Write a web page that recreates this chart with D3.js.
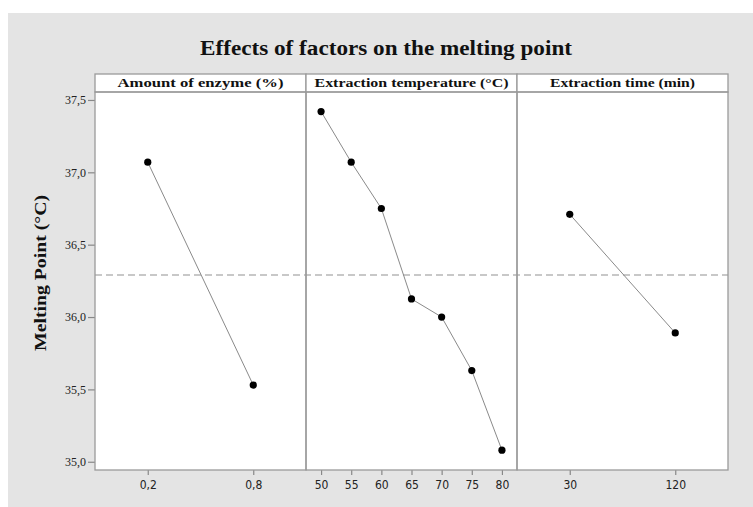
<!DOCTYPE html>
<html><head><meta charset="utf-8">
<script src="https://cdn.jsdelivr.net/npm/d3@7"></script>
<style>body{margin:0;background:#fff}svg{display:block}</style>
</head><body>
<svg id="c" width="753" height="507"></svg>
<script>
const title = "Effects of factors on the melting point";
const yLabel = "Melting Point (°C)";
const panelTitles = ["Amount of enzyme (%)", "Extraction temperature (°C)", "Extraction time (min)"];
const enzymeLevels = ["0,2", "0,8"];
const enzymeMeans = [37.07, 35.53];
const tempLevels = ["50", "55", "60", "65", "70", "75", "80"];
const tempMeans = [37.42, 37.07, 36.75, 36.125, 36.0, 35.63, 35.08];
const timeLevels = ["30", "120"];
const timeMeans = [36.71, 35.89];
const yTicks = [35.0, 35.5, 36.0, 36.5, 37.0, 37.5];
const grandMean = 36.29;

const panels = [
  {title: panelTitles[0], levels: enzymeLevels, values: enzymeMeans, tw: 166},
  {title: panelTitles[1], levels: tempLevels, values: tempMeans, tw: 194},
  {title: panelTitles[2], levels: timeLevels, values: timeMeans, tw: 145}
];

const svg = d3.select("#c");
svg.append("rect").attr("x", 8).attr("y", 13).attr("width", 745).attr("height", 494).attr("fill", "#e4e4e4");

const L = 95, R = 728, T = 92, B = 470, stripT = 74;
const pw = (R - L) / 3;
const y = d3.scaleLinear().domain([34.943, 37.555]).range([B, T]);
const serif = "'Liberation Serif','DejaVu Serif',serif";
const sans = "'Liberation Sans Narrow','DejaVu Sans Condensed','Liberation Sans',sans-serif";

svg.append("text").attr("x", 386).attr("y", 55).attr("text-anchor", "middle")
  .attr("font-family", serif).attr("font-weight", "bold").attr("font-size", 20)
  .attr("textLength", 372).attr("lengthAdjust", "spacingAndGlyphs")
  .attr("fill", "#111").text(title);

svg.append("text").attr("transform", `translate(46,273) rotate(-90)`)
  .attr("text-anchor", "middle").attr("font-family", serif).attr("font-weight", "bold")
  .attr("font-size", 17).attr("textLength", 156).attr("lengthAdjust", "spacingAndGlyphs")
  .attr("fill", "#111").text(yLabel);

// plot background
svg.append("rect").attr("x", L).attr("y", T).attr("width", R - L).attr("height", B - T).attr("fill", "#fff");

// y axis
const yAxis = d3.axisLeft(y).tickValues(yTicks).tickSize(7).tickPadding(2)
  .tickFormat(d => d3.format(".1f")(d).replace(".", ","));
const ya = svg.append("g").attr("transform", `translate(${L},0)`).call(yAxis);
ya.select(".domain").remove();
ya.selectAll("line").attr("stroke", "#888").attr("stroke-width", 1.2);
ya.selectAll("text").attr("font-family", serif).attr("font-size", 12).attr("fill", "#222");

// grand mean dashed line
svg.append("line").attr("x1", L).attr("x2", R).attr("y1", y(grandMean)).attr("y2", y(grandMean))
  .attr("stroke", "#c8c8c8").attr("stroke-width", 2).attr("stroke-dasharray", "7,4");

panels.forEach((p, i) => {
  const x0 = L + i * pw, x1 = x0 + pw;
  const x = d3.scalePoint().domain(p.levels).range([x0, x1]).padding(0.5);
  // strip
  svg.append("rect").attr("x", x0).attr("y", stripT).attr("width", pw).attr("height", T - stripT)
    .attr("fill", "#fff").attr("stroke", "#9a9a9a").attr("stroke-width", 1.3);
  svg.append("text").attr("x", (x0 + x1) / 2).attr("y", T - 5).attr("text-anchor", "middle")
    .attr("font-family", serif).attr("font-weight", "bold").attr("font-size", 12.5).attr("fill", "#111")
    .attr("textLength", p.tw).attr("lengthAdjust", "spacingAndGlyphs")
    .text(p.title);
  // x axis
  const xa = svg.append("g").attr("transform", `translate(0,${B})`)
    .call(d3.axisBottom(x).tickSize(5).tickPadding(5));
  xa.select(".domain").remove();
  xa.selectAll("line").attr("stroke", "#888").attr("stroke-width", 1.2);
  xa.selectAll("text").attr("font-family", sans).attr("font-size", 12).attr("fill", "#222");
  // data line
  const pts = p.levels.map((l, k) => [x(l), y(p.values[k])]);
  svg.append("path").attr("d", d3.line()(pts)).attr("fill", "none").attr("stroke", "#8a8a8a").attr("stroke-width", 1);
  svg.selectAll(null).data(pts).enter().append("circle")
    .attr("cx", d => d[0]).attr("cy", d => d[1]).attr("r", 3.6).attr("fill", "#000");
  // panel border
  svg.append("rect").attr("x", x0).attr("y", T).attr("width", pw).attr("height", B - T)
    .attr("fill", "none").attr("stroke", "#9a9a9a").attr("stroke-width", 1.3);
});
</script>
</body></html>
